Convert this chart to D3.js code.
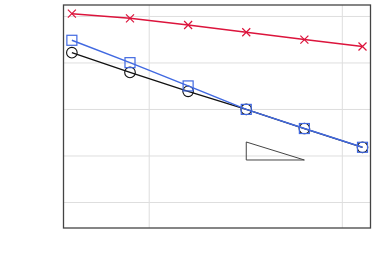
<!DOCTYPE html>
<html>
<head>
<meta charset="utf-8">
<script src="https://cdn.jsdelivr.net/npm/d3@7"></script>
<style>
  body { margin: 0; background: #fff; }
</style>
</head>
<body>
<div id="chart"></div>
<script>
// mesh sizes (x, log scale) and errors (y, log scale)
var sizes = [4, 8, 16, 32, 64, 128];
var errRed = [1.12, 0.89, 0.64, 0.446, 0.31, 0.22];
var errBlue = [0.30, 0.099, 0.0313, 0.0098, 0.0038, 0.0015];
var errBlack = [0.162, 0.061, 0.024, 0.0098, 0.0038, 0.0015];
// slope triangle corners
var triX = [32, 64];
var triY = [0.00195, 0.0008];
// grid positions
var xGrid = [10, 100];
var yGrid = [1, 0.1, 0.01, 0.001, 0.0001];

var width = 374;
var height = 275;
var plotL = 63.5, plotR = 370.5, plotT = 5, plotB = 228;

var svg = d3.select("#chart")
  .append("svg")
  .attr("width", width)
  .attr("height", height);

var x = d3.scaleLog()
  .domain([3.62, 140.8])
  .range([plotL, plotR]);

var y = d3.scaleLog()
  .domain([1.72, 2.76e-5])
  .range([plotT, plotB]);

// grid lines
svg.append("g")
  .attr("transform", "translate(0," + plotB + ")")
  .call(d3.axisBottom(x).tickValues(xGrid).tickSize(-(plotB - plotT)).tickFormat(""))
  .call(function(g) {
    g.select(".domain").remove();
    g.selectAll("line").attr("stroke", "#dedede");
  });

svg.append("g")
  .attr("transform", "translate(" + plotL + ",0)")
  .call(d3.axisLeft(y).tickValues(yGrid).tickSize(-(plotR - plotL)).tickFormat(""))
  .call(function(g) {
    g.select(".domain").remove();
    g.selectAll("line").attr("stroke", "#dedede");
  });

function series(vals, color, w) {
  var pts = sizes.map(function(s, i) { return [s, vals[i]]; });
  svg.append("path")
    .datum(pts)
    .attr("fill", "none")
    .attr("stroke", color)
    .attr("stroke-width", w)
    .attr("d", d3.line()
      .x(function(d) { return x(d[0]); })
      .y(function(d) { return y(d[1]); }));
  return pts;
}

// black circles
var pBlack = series(errBlack, "#111", 1.3);
svg.selectAll("circle.blk")
  .data(pBlack)
  .enter()
  .append("circle")
  .attr("class", "blk")
  .attr("cx", function(d) { return x(d[0]); })
  .attr("cy", function(d) { return y(d[1]); })
  .attr("r", 5.3)
  .attr("fill", "none")
  .attr("stroke", "#111")
  .attr("stroke-width", 1.1);

// blue squares
var pBlue = series(errBlue, "#4169e1", 1.5);
svg.selectAll("rect.blu")
  .data(pBlue)
  .enter()
  .append("rect")
  .attr("class", "blu")
  .attr("x", function(d) { return x(d[0]) - 5; })
  .attr("y", function(d) { return y(d[1]) - 5; })
  .attr("width", 10)
  .attr("height", 10)
  .attr("fill", "none")
  .attr("stroke", "#4169e1")
  .attr("stroke-width", 1.2);

// red crosses
var pRed = series(errRed, "#dc143c", 1.5);
svg.selectAll("path.red")
  .data(pRed)
  .enter()
  .append("path")
  .attr("class", "red")
  .attr("transform", function(d) { return "translate(" + x(d[0]) + "," + y(d[1]) + ")"; })
  .attr("d", "M-4,-4L4,4M-4,4L4,-4")
  .attr("stroke", "#dc143c")
  .attr("stroke-width", 1.2);

// slope triangle
svg.append("path")
  .attr("d", "M" + x(triX[0]) + "," + y(triY[0]) +
    "L" + x(triX[0]) + "," + y(triY[1]) +
    "L" + x(triX[1]) + "," + y(triY[1]) + "Z")
  .attr("fill", "none")
  .attr("stroke", "#444")
  .attr("stroke-width", 1);

// frame
svg.append("rect")
  .attr("x", plotL)
  .attr("y", plotT)
  .attr("width", plotR - plotL)
  .attr("height", plotB - plotT)
  .attr("fill", "none")
  .attr("stroke", "#444")
  .attr("stroke-width", 1.3);
</script>
</body>
</html>
